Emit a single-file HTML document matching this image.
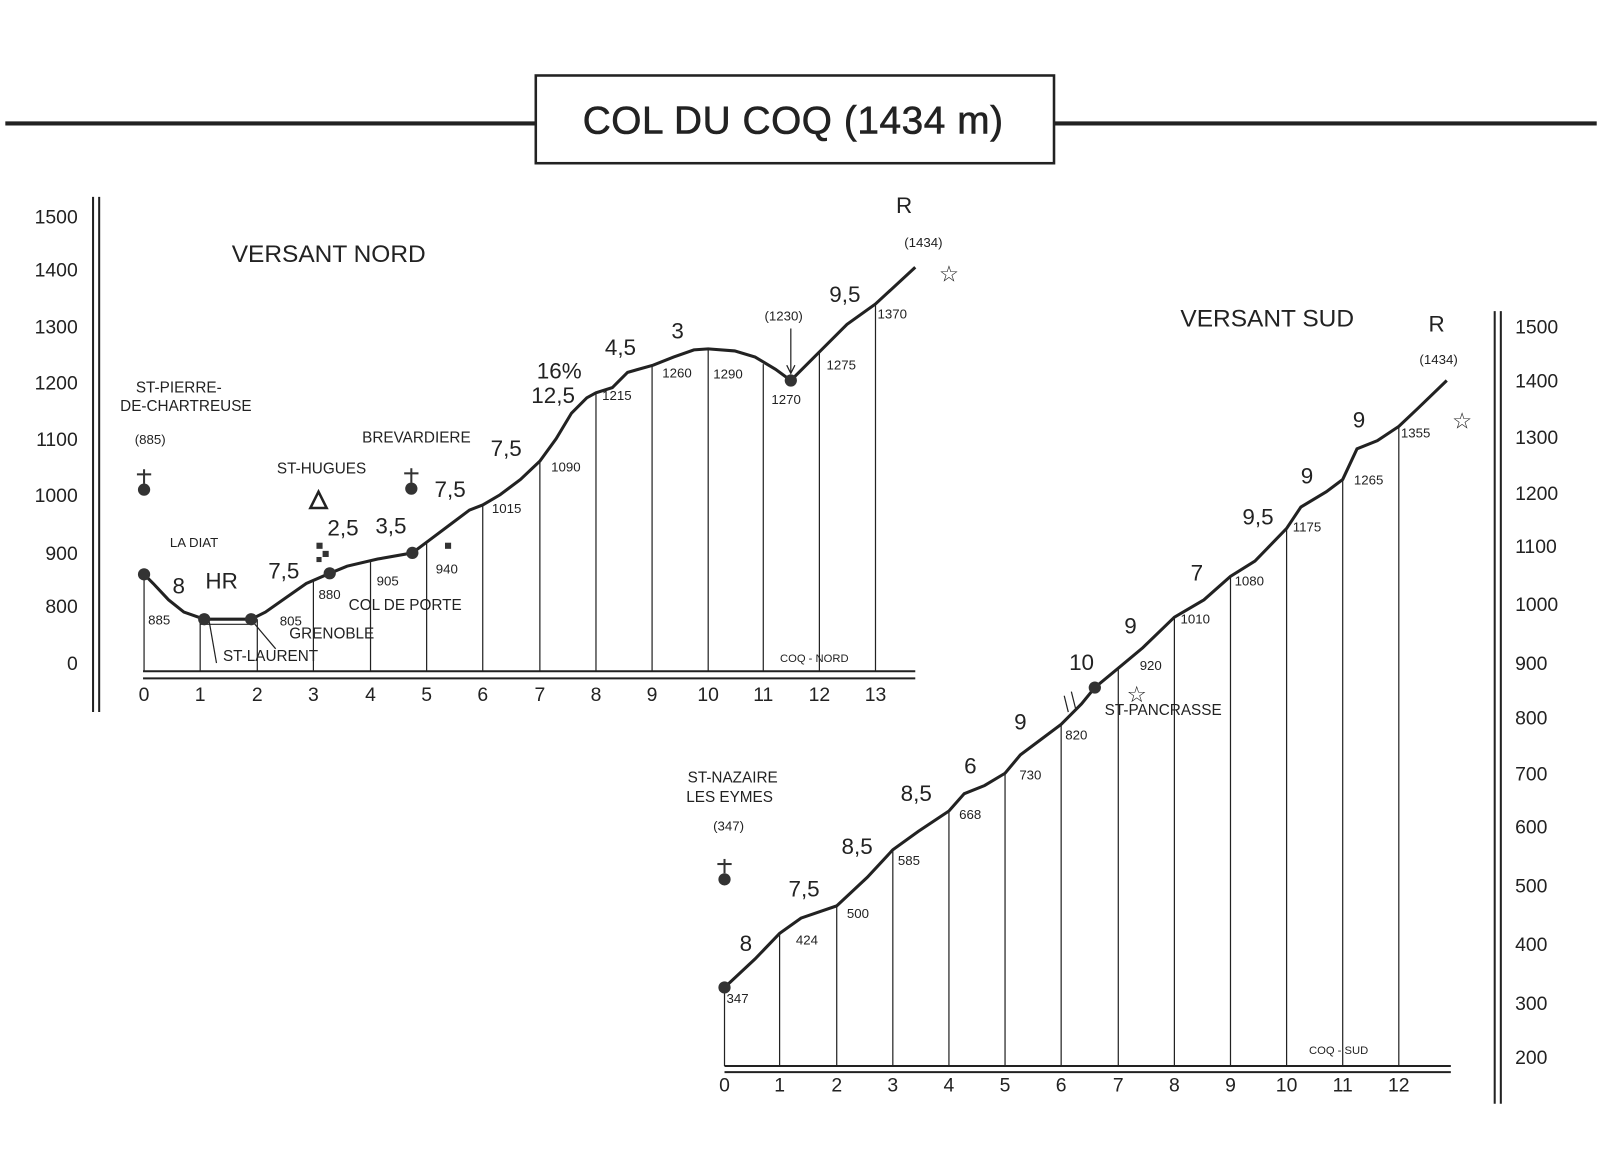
<!DOCTYPE html>
<html><head><meta charset="utf-8"><style>
html,body{margin:0;padding:0;background:#fff;}
svg{display:block;}
text{font-family:"Liberation Sans",sans-serif;fill:#222;}
.s{font-size:13px}.g{font-size:22px}.p{font-size:15px}.t{font-size:19px}
</style></head><body>
<svg width="1600" height="1166" viewBox="0 0 1568 1143" xmlns="http://www.w3.org/2000/svg">
<rect width="1568" height="1143" fill="#fff"/>
<g stroke="#222" fill="none">
<line x1="5" y1="121" x2="525" y2="121" stroke-width="4"/>
<line x1="1033" y1="121" x2="1565" y2="121" stroke-width="4"/>
<rect x="525" y="74" width="508" height="86" stroke-width="2.5"/>
<line x1="91" y1="193" x2="91" y2="698" stroke-width="2"/>
<line x1="97" y1="193" x2="97" y2="698" stroke-width="2"/>
<line x1="140" y1="658" x2="897" y2="658" stroke-width="2"/>
<line x1="140" y1="665" x2="897" y2="665" stroke-width="2"/>
<line x1="1465" y1="305" x2="1465" y2="1082" stroke-width="2"/>
<line x1="1471" y1="305" x2="1471" y2="1082" stroke-width="2"/>
<line x1="710" y1="1045" x2="1422" y2="1045" stroke-width="2"/>
<line x1="710" y1="1051" x2="1422" y2="1051" stroke-width="2"/>
<polyline stroke-width="3" points="141,563 150,572 165,588 180,600 200,607 246,607 260,600 280,586 300,572 323,562 340,555 370,548 404,542 420,530 440,515 460,500 473,495 490,485 510,470 529,452 545,430 560,405 575,390 584,385 600,380 615,365 640,358 660,350 680,343 694,342 720,344 740,350 760,362 775,373 803,345 830,318 858,298 897,262"/>
<g stroke-width="1.2">
<line x1="141" y1="563" x2="141" y2="658"/><line x1="196" y1="607" x2="196" y2="658"/><line x1="252" y1="607" x2="252" y2="658"/>
<line x1="307" y1="568" x2="307" y2="658"/><line x1="363" y1="550" x2="363" y2="658"/><line x1="418" y1="532" x2="418" y2="658"/>
<line x1="473" y1="495" x2="473" y2="658"/><line x1="529" y1="452" x2="529" y2="658"/><line x1="584" y1="385" x2="584" y2="658"/>
<line x1="639" y1="358" x2="639" y2="658"/><line x1="694" y1="342" x2="694" y2="658"/><line x1="748" y1="357" x2="748" y2="658"/>
<line x1="803" y1="345" x2="803" y2="658"/><line x1="858" y1="298" x2="858" y2="658"/>
<line x1="775" y1="322" x2="775" y2="365"/>
<line x1="205" y1="610" x2="212" y2="650"/><line x1="248" y1="610" x2="270" y2="636"/>
<line x1="196" y1="612" x2="246" y2="612"/>
</g>
<polyline stroke-width="3" points="710,968 740,940 764,915 785,900 820,888 850,860 875,833 900,815 930,795 945,778 965,770 985,758 1000,740 1020,725 1040,710 1060,690 1073,674 1096,655 1120,635 1151,605 1180,588 1206,565 1230,550 1261,518 1275,497 1300,482 1316,470 1330,440 1350,432 1371,418 1390,400 1418,373"/>
<g stroke-width="1.2">
<line x1="710" y1="968" x2="710" y2="1045"/><line x1="764" y1="915" x2="764" y2="1045"/><line x1="820" y1="888" x2="820" y2="1045"/>
<line x1="875" y1="833" x2="875" y2="1045"/><line x1="930" y1="795" x2="930" y2="1045"/><line x1="985" y1="758" x2="985" y2="1045"/>
<line x1="1040" y1="710" x2="1040" y2="1045"/><line x1="1096" y1="655" x2="1096" y2="1045"/><line x1="1151" y1="605" x2="1151" y2="1045"/>
<line x1="1206" y1="565" x2="1206" y2="1045"/><line x1="1261" y1="518" x2="1261" y2="1045"/><line x1="1316" y1="470" x2="1316" y2="1045"/>
<line x1="1371" y1="418" x2="1371" y2="1045"/>
<line x1="1043" y1="682" x2="1047" y2="698"/><line x1="1050" y1="678" x2="1054" y2="694"/>
</g>
<path d="M304,498 L312,482 L320,498 Z" stroke-width="2.5"/>
<path d="M771,358 L775,366 L779,358" stroke-width="1.2"/>
</g>
<g fill="#333">
<circle cx="141" cy="563" r="6"/><circle cx="200" cy="607" r="6"/><circle cx="246" cy="607" r="6"/>
<circle cx="323" cy="562" r="6"/><circle cx="404" cy="542" r="6"/><circle cx="775" cy="373" r="6"/>
<circle cx="141" cy="480" r="6"/><circle cx="403" cy="479" r="6"/>
<circle cx="710" cy="968" r="6"/><circle cx="1073" cy="674" r="6"/><circle cx="710" cy="862" r="6"/>
<rect x="310" y="532" width="6" height="6"/><rect x="316" y="540" width="6" height="6"/><rect x="310" y="546" width="5" height="5"/><rect x="436" y="532" width="6" height="6"/>
</g>
<g stroke="#333" stroke-width="2">
<line x1="141" y1="460" x2="141" y2="474"/><line x1="134" y1="465" x2="148" y2="465"/>
<line x1="403" y1="459" x2="403" y2="473"/><line x1="396" y1="464" x2="410" y2="464"/>
<line x1="710" y1="842" x2="710" y2="856"/><line x1="703" y1="847" x2="717" y2="847"/>
</g>
<text x="777" y="131" text-anchor="middle" font-size="38" stroke="#222" stroke-width="0.6" textLength="412">COL DU COQ (1434 m)</text>
<g class="t" text-anchor="end">
<text x="76" y="219">1500</text><text x="76" y="271">1400</text><text x="76" y="327">1300</text><text x="76" y="382">1200</text>
<text x="76" y="437">1100</text><text x="76" y="492">1000</text><text x="76" y="549">900</text><text x="76" y="601">800</text><text x="76" y="657">0</text>
</g>
<g class="t" text-anchor="middle">
<text x="141" y="687">0</text><text x="196" y="687">1</text><text x="252" y="687">2</text><text x="307" y="687">3</text><text x="363" y="687">4</text>
<text x="418" y="687">5</text><text x="473" y="687">6</text><text x="529" y="687">7</text><text x="584" y="687">8</text><text x="639" y="687">9</text>
<text x="694" y="687">10</text><text x="748" y="687">11</text><text x="803" y="687">12</text><text x="858" y="687">13</text>
<text x="710" y="1070">0</text><text x="764" y="1070">1</text><text x="820" y="1070">2</text><text x="875" y="1070">3</text><text x="930" y="1070">4</text>
<text x="985" y="1070">5</text><text x="1040" y="1070">6</text><text x="1096" y="1070">7</text><text x="1151" y="1070">8</text><text x="1206" y="1070">9</text>
<text x="1261" y="1070">10</text><text x="1316" y="1070">11</text><text x="1371" y="1070">12</text>
</g>
<g class="t">
<text x="1485" y="327">1500</text><text x="1485" y="380">1400</text><text x="1485" y="435">1300</text><text x="1485" y="490">1200</text>
<text x="1485" y="542">1100</text><text x="1485" y="599">1000</text><text x="1485" y="657">900</text><text x="1485" y="710">800</text>
<text x="1485" y="765">700</text><text x="1485" y="817">600</text><text x="1485" y="875">500</text><text x="1485" y="932">400</text>
<text x="1485" y="990">300</text><text x="1485" y="1043">200</text>
</g>
<g class="s">
<text x="145" y="612">885</text><text x="274" y="613">805</text><text x="312" y="587">880</text><text x="369" y="574">905</text>
<text x="427" y="562">940</text><text x="482" y="503">1015</text><text x="540" y="462">1090</text><text x="590" y="392">1215</text>
<text x="649" y="370">1260</text><text x="699" y="371">1290</text><text x="756" y="396">1270</text><text x="810" y="362">1275</text><text x="860" y="312">1370</text>
<text x="712" y="983">347</text><text x="780" y="926">424</text><text x="830" y="900">500</text><text x="880" y="848">585</text>
<text x="940" y="803">668</text><text x="999" y="764">730</text><text x="1044" y="725">820</text><text x="1117" y="657">920</text>
<text x="1157" y="611">1010</text><text x="1210" y="574">1080</text><text x="1267" y="521">1175</text><text x="1327" y="475">1265</text><text x="1373" y="429">1355</text>
</g>
<g class="g" text-anchor="middle">
<text x="175" y="582">8</text><text x="217" y="577">HR</text><text x="278" y="567">7,5</text><text x="336" y="525">2,5</text>
<text x="383" y="523">3,5</text><text x="441" y="487">7,5</text><text x="496" y="447">7,5</text><text x="542" y="395">12,5</text>
<text x="548" y="371">16%</text><text x="608" y="348">4,5</text><text x="664" y="332">3</text><text x="828" y="296">9,5</text>
<text x="886" y="209">R</text>
<text x="731" y="932">8</text><text x="788" y="879">7,5</text><text x="840" y="837">8,5</text><text x="898" y="785">8,5</text>
<text x="951" y="758">6</text><text x="1000" y="715">9</text><text x="1060" y="657">10</text><text x="1108" y="621">9</text>
<text x="1173" y="569">7</text><text x="1233" y="514">9,5</text><text x="1281" y="474">9</text><text x="1332" y="419">9</text>
<text x="1408" y="325">R</text>
<text x="322" y="257" font-size="24">VERSANT NORD</text>
<text x="1242" y="320" font-size="24">VERSANT SUD</text>
</g>
<g class="p" text-anchor="middle">
<text x="175" y="385">ST-PIERRE-</text><text x="182" y="403">DE-CHARTREUSE</text>
<text x="315" y="464">ST-HUGUES</text><text x="408" y="434">BREVARDIERE</text>
<text x="265" y="648">ST-LAURENT</text><text x="325" y="626">GRENOBLE</text><text x="397" y="598">COL DE PORTE</text>
<text x="718" y="767">ST-NAZAIRE</text><text x="715" y="786">LES EYMES</text>
<text x="1140" y="701">ST-PANCRASSE</text>
</g>
<g font-size="13" text-anchor="middle">
<text x="147" y="435">(885)</text><text x="190" y="536">LA DIAT</text><text x="905" y="242">(1434)</text>
<text x="768" y="314">(1230)</text><text x="714" y="814">(347)</text><text x="1410" y="357">(1434)</text>
<text x="798" y="649" font-size="11">COQ - NORD</text><text x="1312" y="1033" font-size="11">COQ - SUD</text>
</g>
<g font-size="22" text-anchor="middle"><text x="930" y="276">☆</text><text x="1433" y="420">☆</text><text x="1114" y="688">☆</text></g>
</svg>
</body></html>
